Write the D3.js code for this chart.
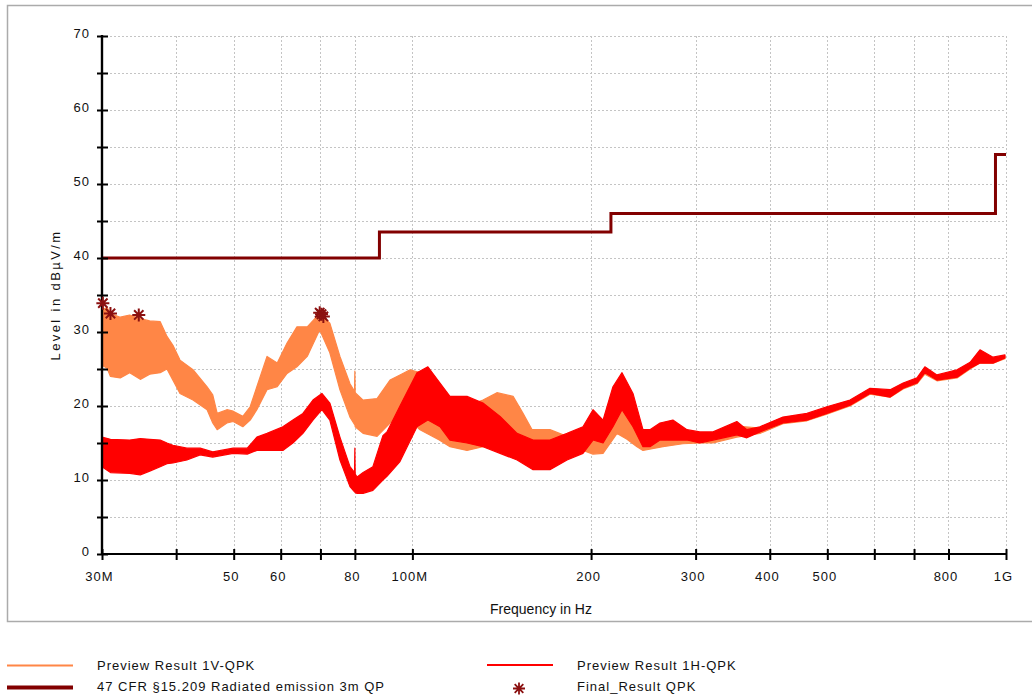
<!DOCTYPE html>
<html>
<head>
<meta charset="utf-8">
<script src="https://cdn.jsdelivr.net/npm/d3@7"></script>
<style>
  html, body { margin: 0; padding: 0; background: #fff; }
  svg { display: block; }
  text { font-family: "Liberation Sans", Arial, sans-serif; fill: #111; }
</style>
</head>
<body>
<script>
// ---------------- DATA ----------------
// Preview Result 1V-QPK (orange band: upper / lower envelope, MHz / dBµV/m)
const freqV = [30.0, 30.6, 31.0, 32.2, 33.4, 34.8, 36.1, 37.6, 38.6, 39.5, 40.6, 42.7, 45.1, 46.1, 46.9, 48.7, 49.9, 51.8, 53.3, 54.7, 56.9, 59.2, 61.5, 63.9, 66.5, 69.8, 72.6, 75.5, 78.5, 79.9, 80.0, 80.1, 82.6, 87.2, 91.7, 95.3, 99.1, 103, 111, 115.7, 123.6, 131.5, 138.8, 147.8, 153.6, 159.1, 170.5, 182.2, 193.8, 201.5, 209.5, 221.2, 229.9, 239, 244.6, 264.3, 285.6, 305, 321, 352, 385, 421, 462, 499, 546, 590, 638, 671, 708, 730, 765, 827, 870, 904, 951, 996];
const v1Hi  = [33.0, 33.3, 32.5, 32.0, 32.3, 31.8, 31.5, 31.4, 29.4, 28.2, 26.2, 24.9, 22.6, 21.5, 19.0, 19.5, 19.3, 18.6, 19.9, 22.6, 26.7, 25.8, 28.5, 30.7, 30.7, 32.5, 31.2, 26.7, 23.0, 22.0, 24.7, 21.8, 20.8, 21.0, 23.5, 24.2, 24.9, 24.5, 22.0, 21.0, 20.0, 20.8, 21.8, 21.3, 19.0, 16.8, 16.8, 15.9, 16.0, 16.3, 16.3, 19.9, 19.0, 17.0, 15.5, 16.3, 16.3, 16.2, 16.0, 17.3, 17.0, 18.3, 18.8, 19.7, 20.6, 22.2, 22.0, 22.9, 23.6, 25.0, 24.0, 24.7, 25.7, 27.2, 26.4, 26.7];
const v1Lo  = [25.5, 25.1, 24.0, 23.8, 24.5, 23.6, 24.3, 24.5, 25.0, 23.5, 21.7, 20.8, 19.5, 17.7, 16.8, 17.7, 17.9, 17.2, 18.1, 19.5, 22.2, 22.6, 24.4, 25.3, 26.7, 30.3, 27.2, 22.2, 18.5, 17.5, 17.5, 17.2, 16.3, 15.9, 17.7, 19.0, 18.0, 16.8, 15.4, 14.5, 14.0, 14.5, 15.0, 15.0, 14.8, 14.5, 14.5, 14.0, 14.0, 13.5, 13.6, 16.3, 15.5, 14.5, 14.0, 14.5, 14.9, 15.0, 15.0, 15.8, 16.3, 17.6, 18.0, 18.9, 20.0, 21.6, 21.2, 22.3, 23.0, 24.3, 23.4, 23.8, 25.0, 25.8, 25.8, 26.4];

// Preview Result 1H-QPK (red band: upper / lower envelope)
const freqH = [30.0, 31.0, 33.4, 34.8, 36.1, 37.6, 38.6, 39.5, 41.7, 43.9, 46.1, 49.9, 52.7, 54.7, 56.9, 60.5, 62.9, 65.4, 68.0, 70.4, 72.6, 75.5, 78.5, 79.9, 80.0, 80.1, 80.7, 82.6, 85.8, 89.2, 90.6, 95.3, 101.8, 106.2, 111.3, 115.7, 123.6, 131.5, 140.5, 150.1, 159.7, 170.5, 182.2, 193.8, 201.5, 209.5, 217.7, 225.5, 235.3, 244.6, 251.3, 261.3, 274.7, 290.1, 305, 321, 352, 366, 385, 421, 462, 499, 546, 590, 638, 671, 708, 730, 765, 827, 870, 904, 951, 996];
const h1Hi  = [15.8, 15.5, 15.4, 15.6, 15.5, 15.4, 15.0, 14.7, 14.3, 14.3, 13.8, 14.3, 14.3, 15.8, 16.3, 17.2, 18.1, 19.0, 20.8, 21.7, 20.4, 15.8, 11.8, 11.0, 14.3, 10.8, 10.4, 11.0, 11.8, 16.0, 16.5, 20.0, 24.5, 25.3, 23.1, 21.3, 21.3, 20.4, 18.6, 16.3, 15.4, 15.4, 16.3, 17.2, 19.5, 18.1, 22.6, 24.5, 21.7, 16.8, 16.8, 17.7, 18.1, 16.8, 16.5, 16.5, 17.9, 16.8, 17.2, 18.5, 19.0, 19.9, 20.8, 22.4, 22.2, 23.1, 23.8, 25.3, 24.2, 24.9, 25.9, 27.6, 26.6, 26.9];
const h1Lo  = [11.8, 11.0, 10.9, 10.7, 11.2, 11.8, 12.2, 12.3, 12.7, 13.4, 13.1, 13.6, 13.5, 14.0, 14.0, 14.0, 15.0, 16.3, 18.1, 19.5, 18.1, 12.7, 9.1, 8.4, 8.4, 8.3, 8.2, 8.2, 8.6, 10.0, 10.5, 12.5, 17.2, 18.1, 17.2, 15.4, 15.0, 14.5, 13.6, 12.7, 11.4, 11.4, 12.7, 13.6, 15.4, 15.0, 17.2, 19.5, 17.2, 14.5, 14.5, 15.4, 15.4, 15.4, 15.0, 15.4, 16.1, 15.7, 16.5, 17.7, 18.1, 19.0, 20.1, 21.7, 21.2, 22.4, 23.1, 24.5, 23.5, 23.9, 25.1, 25.8, 25.8, 26.5];

// 47 CFR §15.209 Radiated emission 3m QP (limit)
const limitFreq  = [30, 88, 88, 216, 216, 960, 960, 1000];
const limitLevel = [40, 40, 43.5, 43.5, 46, 46, 54, 54];

// Final_Result QPK
const finalFreq  = [30.1, 31.0, 34.6, 69.8, 70.3, 70.8];
const finalLevel = [33.9, 32.5, 32.3, 32.6, 32.4, 32.1];

// Ticks
const xTickValues = [30, 40, 50, 60, 70, 80, 100, 200, 300, 400, 500, 600, 700, 800, 1000];
const xTickLabels = ["30M", "", "50", "60", "", "80", "100M", "200", "300", "400", "500", "", "", "800", "1G"];
const yTickValues = [0, 5, 10, 15, 20, 25, 30, 35, 40, 45, 50, 55, 60, 65, 70];
const yTickLabels = ["0", "", "10", "", "20", "", "30", "", "40", "", "50", "", "60", "", "70"];

// ---------------- CHART ----------------
const W = 1032, H = 698;
const svg = d3.select("body").append("svg").attr("width", W).attr("height", H);

// outer frame
svg.append("rect").attr("x", 7.5).attr("y", 5.5).attr("width", 1040).attr("height", 616)
  .attr("fill", "none").attr("stroke", "#ababab").attr("stroke-width", 1.5);

const x = d3.scaleLog().domain([30, 1000]).range([102, 1006]);
const y = d3.scaleLinear().domain([0, 70]).range([554, 36]);

// grid
const grid = svg.append("g").attr("stroke", "#c4c4c4").attr("stroke-width", 1).attr("stroke-dasharray", "2,2");
grid.selectAll("line.h").data(yTickValues.filter(v => v > 0)).join("line")
  .attr("x1", x(30)).attr("x2", x(1000)).attr("y1", d => y(d) + 0.5).attr("y2", d => y(d) + 0.5);
grid.selectAll("line.v").data(xTickValues.filter(v => v > 30)).join("line")
  .attr("x1", d => Math.round(x(d)) + 0.5).attr("x2", d => Math.round(x(d)) + 0.5)
  .attr("y1", y(0)).attr("y2", y(70));

// series bands
function band(fr, hi, lo) { return fr.map((f, i) => ({ f: f, hi: hi[i], lo: lo[i] })); }
const area = d3.area().x(d => x(d.f)).y0(d => y(d.lo)).y1(d => y(d.hi));

svg.append("path").datum(band(freqV, v1Hi, v1Lo)).attr("d", area)
  .attr("fill", "#ff8646").attr("stroke", "#ff8646").attr("stroke-width", 1.2).attr("stroke-linejoin", "round");
svg.append("path").datum(band(freqH, h1Hi, h1Lo)).attr("d", area)
  .attr("fill", "#ff0000").attr("stroke", "#ff0000").attr("stroke-width", 1.2).attr("stroke-linejoin", "round");

// limit line
const limitPts = limitFreq.map((f, i) => [f, limitLevel[i]]);
svg.append("path").datum(limitPts)
  .attr("d", d3.line().x(d => x(d[0])).y(d => y(d[1])))
  .attr("fill", "none").attr("stroke", "#820000").attr("stroke-width", 3);

// axes
const yAxis = d3.axisLeft(y).tickValues(yTickValues).tickFormat((d, i) => yTickLabels[i]).tickSize(6).tickPadding(6);
const gy = svg.append("g").attr("transform", `translate(${x(30)},0)`).call(yAxis);
gy.select(".domain").attr("d", `M0,${y(70) - 1}V${y(0) + 1}`).attr("stroke", "#000").attr("stroke-width", 2.2).attr("fill", "none");
gy.selectAll(".tick line").attr("x1", 6).attr("x2", -5).attr("stroke", "#000").attr("stroke-width", 2);
gy.selectAll(".tick text").attr("font-size", 13).attr("letter-spacing", "1px")
  .attr("font-family", "Liberation Sans, Arial, sans-serif").attr("fill", "#111").attr("dy", "0.15em").attr("x", -12);

const xAxis = d3.axisBottom(x).tickValues(xTickValues).tickFormat((d, i) => xTickLabels[i]).tickSize(6).tickPadding(12);
const gx = svg.append("g").attr("transform", `translate(0,${y(0)})`).call(xAxis);
gx.select(".domain").attr("d", `M${x(30) - 1},0H${x(1000)}`).attr("stroke", "#000").attr("stroke-width", 2.2).attr("fill", "none");
gx.selectAll(".tick line").attr("y1", -5).attr("y2", 6).attr("stroke", "#000").attr("stroke-width", 2);
gx.selectAll(".tick text").attr("font-size", 13).attr("letter-spacing", "1px")
  .attr("font-family", "Liberation Sans, Arial, sans-serif").attr("fill", "#111").attr("dx", -3);

// explicit y axis bar (on top of data)
svg.append("rect").attr("x", x(30) - 1.1).attr("y", y(70) - 1).attr("width", 2.2).attr("height", y(0) - y(70) + 2)
  .attr("fill", "#000");

// final result stars
const starPath = (s) => `M${-s},0L${s},0M0,${-s}L0,${s}M${-s*0.72},${-s*0.72}L${s*0.72},${s*0.72}M${-s*0.72},${s*0.72}L${s*0.72},${-s*0.72}`;
svg.append("g").selectAll("path").data(finalFreq.map((f, i) => [f, finalLevel[i]])).join("path")
  .attr("transform", d => `translate(${x(d[0])},${y(d[1])})`)
  .attr("d", starPath(6.5)).attr("fill", "none").attr("stroke", "#8b1010").attr("stroke-width", 2);

// axis titles
svg.append("text").attr("x", 541).attr("y", 614).attr("text-anchor", "middle")
  .attr("font-size", 14).text("Frequency in Hz");
svg.append("text").attr("transform", "translate(60,295) rotate(-90)").attr("text-anchor", "middle")
  .attr("font-size", 13).attr("letter-spacing", "2.4px").text("Level in dBµV/m");

// legend
const lg = svg.append("g").attr("font-size", 13).attr("letter-spacing", "1px");
lg.append("line").attr("x1", 7).attr("x2", 73).attr("y1", 665.5).attr("y2", 665.5).attr("stroke", "#ff8646").attr("stroke-width", 2);
lg.append("text").attr("x", 97).attr("y", 669.5).text("Preview Result 1V-QPK");
lg.append("line").attr("x1", 487).attr("x2", 553).attr("y1", 665).attr("y2", 665).attr("stroke", "#ff0000").attr("stroke-width", 2);
lg.append("text").attr("x", 577).attr("y", 669.5).text("Preview Result 1H-QPK");
lg.append("line").attr("x1", 7).attr("x2", 73).attr("y1", 687.5).attr("y2", 687.5).attr("stroke", "#820000").attr("stroke-width", 4);
lg.append("text").attr("x", 97).attr("y", 691).text("47 CFR §15.209 Radiated emission 3m QP");
lg.append("path").attr("transform", "translate(519,688.5)").attr("d", starPath(6))
  .attr("fill", "none").attr("stroke", "#8b1010").attr("stroke-width", 1.8);
lg.append("text").attr("x", 577).attr("y", 691).text("Final_Result QPK");
</script>
</body>
</html>
